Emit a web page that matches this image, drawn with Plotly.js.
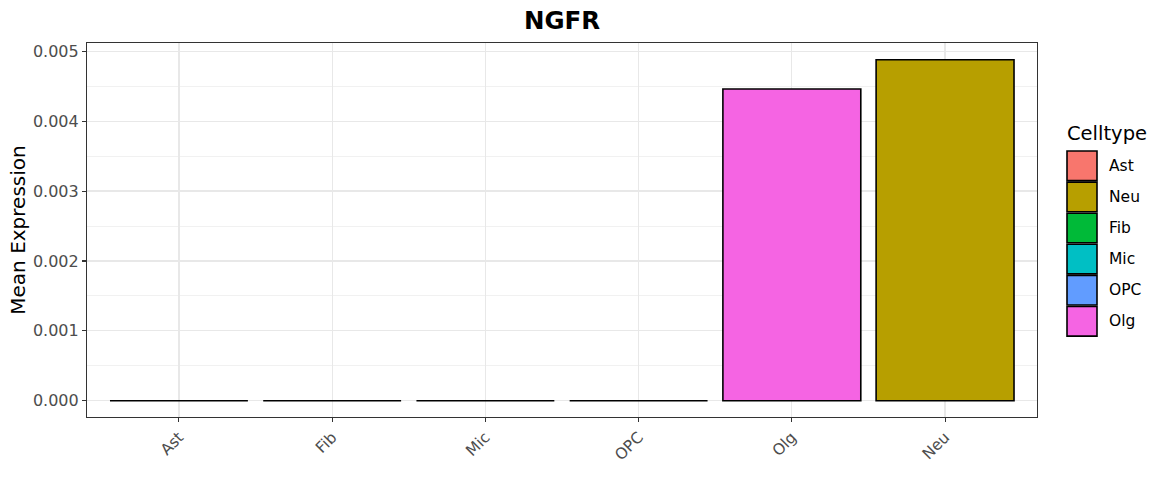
<!DOCTYPE html>
<html>
<head>
<meta charset="utf-8">
<script src="https://cdn.plot.ly/plotly-3.0.1.min.js"></script>
<style>html,body{margin:0;padding:0;background:#fff;}#chart{width:1170px;height:494px;}</style>
</head>
<body>
<div id="chart"></div>
<script>
// Data
const celltypes = ["Ast", "Neu", "Fib", "Mic", "OPC", "Olg"];          // legend (factor) order
const meanExpression = [0, 0.00488, 0, 0, 0, 0.00446];
const colors = ["#F8766D", "#B79F00", "#00BA38", "#00BFC4", "#619CFF", "#F564E3"];
const xOrder = ["Ast", "Fib", "Mic", "OPC", "Olg", "Neu"];              // axis order
const yTicks = [0, 0.001, 0.002, 0.003, 0.004, 0.005];
const yTickLabels = ["0.000", "0.001", "0.002", "0.003", "0.004", "0.005"];

const FONT = "DejaVu Sans, sans-serif";

const traces = celltypes.map((c, i) => ({
  type: "bar",
  x: [c],
  y: [meanExpression[i]],
  name: c,
  width: 0.9,
  marker: {color: colors[i], line: {color: "#000000", width: 1.6}},
  showlegend: false,
  hoverinfo: "x+y"
}));

// manual ggplot-like legend
const shapes = [];
const annotations = [];
const keyX0 = 1067, keyW = 30, keyTop = 151, keyPitch = 31.1;
const W = 1170, H = 494, L = 87, R = 133, T = 43, B = 77;
const pw = W - L - R, ph = H - T - B;
function px2x(p){ return (p - L) / pw; }
function py2y(p){ return 1 - (p - T) / ph; }
celltypes.forEach((c, i) => {
  const y0 = keyTop + i * keyPitch;
  shapes.push({
    type: "rect", xref: "paper", yref: "paper",
    x0: px2x(keyX0), x1: px2x(keyX0 + keyW),
    y0: py2y(y0 + keyPitch - 1.5), y1: py2y(y0),
    fillcolor: colors[i], line: {color: "#000000", width: 1.6}
  });
  annotations.push({
    xref: "paper", yref: "paper", x: px2x(1107), y: py2y(y0 + (keyPitch - 1.5) / 2),
    xanchor: "left", yanchor: "middle", text: c, showarrow: false,
    font: {family: FONT, size: 15.5, color: "#000000"}
  });
});
annotations.push({
  xref: "paper", yref: "paper", x: px2x(1065), y: py2y(133),
  xanchor: "left", yanchor: "middle", text: "Celltype", showarrow: false,
  font: {family: FONT, size: 19.5, color: "#000000"}
});

const layout = {
  width: W, height: H,
  margin: {l: L, r: R, t: T, b: B, pad: 0},
  paper_bgcolor: "#ffffff", plot_bgcolor: "#ffffff",
  font: {family: FONT},
  title: {text: "<b>NGFR</b>", x: 0.5, xref: "paper", xanchor: "center",
          y: 1 - 20 / H, yref: "container", yanchor: "middle",
          font: {family: FONT, size: 24.5, color: "#000000"}},
  bargap: 0.1,
  xaxis: {
    type: "category", categoryorder: "array", categoryarray: xOrder,
    range: [-0.6, 5.6], autorange: false,
    showgrid: true, gridcolor: "#E8E8E8", gridwidth: 1.3,
    showline: true, mirror: true, linecolor: "#333333", linewidth: 1.1,
    ticks: "outside", ticklen: 4, tickcolor: "#333333", tickwidth: 1.1,
    tickangle: -45, tickfont: {family: FONT, size: 15.5, color: "#4D4D4D"},
    zeroline: false, fixedrange: true
  },
  yaxis: {
    range: [-0.000233, 0.005119], autorange: false,
    tickvals: yTicks, ticktext: yTickLabels,
    showgrid: true, gridcolor: "#E8E8E8", gridwidth: 1.3,
    minor: {dtick: 0.0005, tick0: 0, showgrid: true, gridcolor: "#EDEDED", gridwidth: 0.8, ticks: ""},
    showline: true, mirror: true, linecolor: "#333333", linewidth: 1.1,
    ticks: "outside", ticklen: 4, tickcolor: "#333333", tickwidth: 1.1,
    tickfont: {family: FONT, size: 16, color: "#4D4D4D"},
    title: {text: "Mean Expression", font: {family: FONT, size: 20, color: "#000000"}, standoff: 1},
    zeroline: false, fixedrange: true
  },
  shapes: shapes,
  annotations: annotations,
  showlegend: false
};

Plotly.newPlot("chart", traces, layout, {displayModeBar: false, staticPlot: true});
</script>
</body>
</html>
